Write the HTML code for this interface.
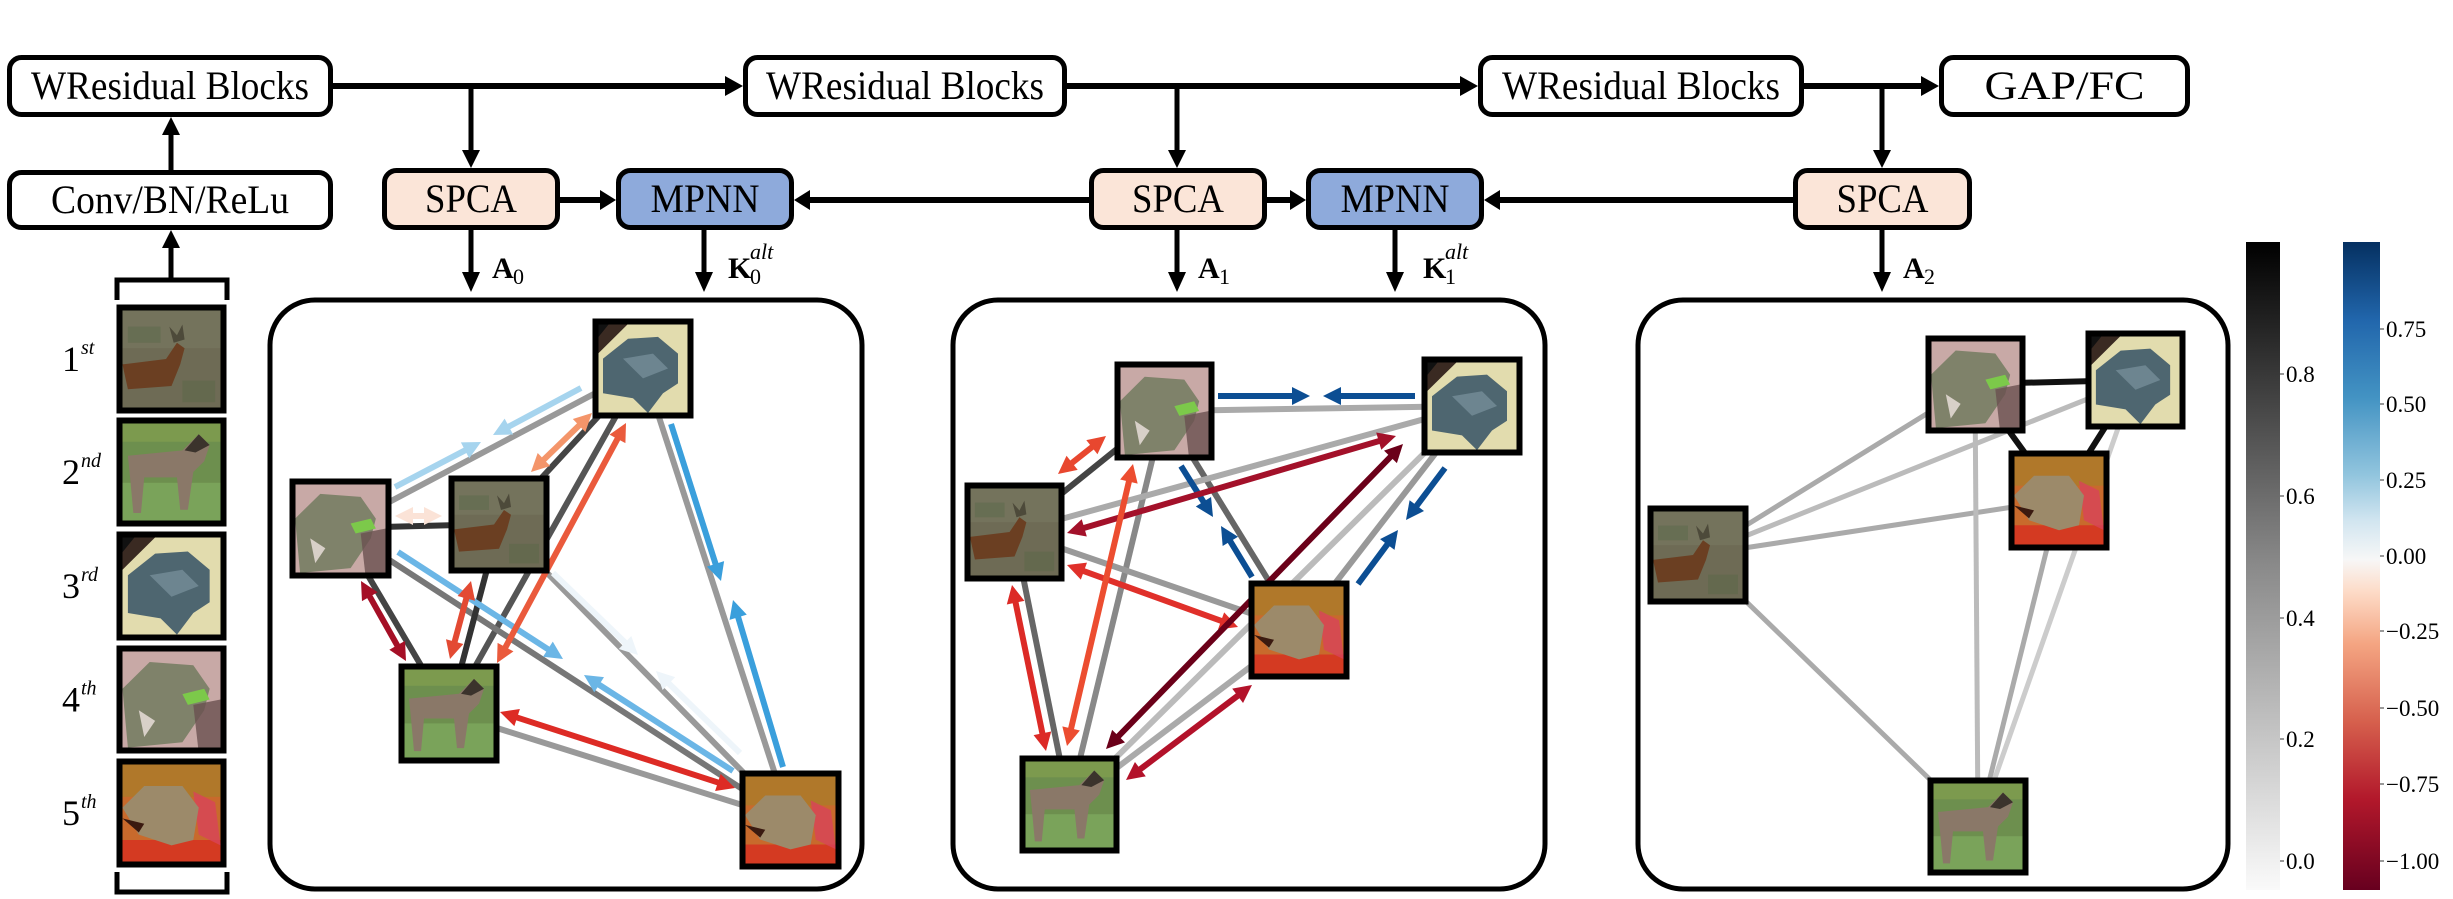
<!DOCTYPE html>
<html><head><meta charset="utf-8">
<style>
html,body{margin:0;padding:0;background:#fff;}
svg{display:block;}
svg text{font-family:"Liberation Serif","Times New Roman",serif;}
</style></head>
<body>
<svg id="s" width="2453" height="899" viewBox="0 0 2453 899" xmlns="http://www.w3.org/2000/svg" font-family="Liberation Serif, serif">
<defs>
<linearGradient id="gray" x1="0" y1="1" x2="0" y2="0">
<stop offset="0" stop-color="#fafafa"/><stop offset="0.5" stop-color="#8a8a8a"/><stop offset="1" stop-color="#000"/>
</linearGradient>
<linearGradient id="rdbu" x1="0" y1="1" x2="0" y2="0">
<stop offset="0" stop-color="#67001f"/>
<stop offset="0.14" stop-color="#b2182b"/>
<stop offset="0.26" stop-color="#d6604d"/>
<stop offset="0.38" stop-color="#f4a582"/>
<stop offset="0.46" stop-color="#fddbc7"/>
<stop offset="0.51" stop-color="#f7f7f7"/>
<stop offset="0.57" stop-color="#d1e5f0"/>
<stop offset="0.64" stop-color="#92c5de"/>
<stop offset="0.76" stop-color="#4393c3"/>
<stop offset="0.88" stop-color="#2166ac"/>
<stop offset="1" stop-color="#053061"/>
</linearGradient>
<symbol id="deer" viewBox="0 0 100 100" preserveAspectRatio="none">
<rect width="100" height="100" fill="#6e6b55"/>
<rect y="0" width="100" height="40" fill="#74735c"/>
<rect x="10" y="20" width="30" height="15" fill="#5f6a4c" opacity="0.6"/>
<rect x="60" y="70" width="30" height="20" fill="#5d684a" opacity="0.6"/>
<path d="M5 55 L45 50 L55 35 L62 40 L58 55 L50 75 L10 78 Z" fill="#6b3f22"/>
<path d="M52 35 L48 20 L55 28 L60 18 L62 32 Z" fill="#4d4a3a"/>
</symbol>
<symbol id="horse" viewBox="0 0 100 100" preserveAspectRatio="none">
<rect width="100" height="100" fill="#6d8f4e"/>
<rect y="0" width="100" height="22" fill="#7c9a4e"/>
<rect y="60" width="100" height="40" fill="#7aa35a"/>
<path d="M10 35 L60 30 L75 15 L85 25 L80 40 L70 50 L65 85 L58 85 L55 55 L25 55 L22 88 L15 88 L12 55 Z" fill="#8a7868"/>
<path d="M62 30 L75 15 L85 25 L72 32 Z" fill="#3b332c"/>
</symbol>
<symbol id="turtle" viewBox="0 0 100 100" preserveAspectRatio="none">
<rect width="100" height="100" fill="#e2dcae"/>
<path d="M0 0 L40 0 L0 40 Z" fill="#3a2a22"/>
<path d="M0 0 L20 0 L0 25 Z" fill="#111"/>
<path d="M10 40 L35 20 L65 18 L85 35 L85 65 L70 75 L55 95 L40 80 L10 75 Z" fill="#4e6670"/>
<path d="M30 40 L60 35 L75 50 L50 60 Z" fill="#6d8590"/>
</symbol>
<symbol id="pfrog" viewBox="0 0 100 100" preserveAspectRatio="none">
<rect width="100" height="100" fill="#c8a9a6"/>
<path d="M5 40 L30 15 L70 18 L85 40 L80 60 L60 90 L10 95 Z" fill="#7f826a"/>
<path d="M60 45 L80 40 L85 50 L65 55 Z" fill="#7cc94a"/>
<path d="M70 55 L95 50 L100 100 L75 100 Z" fill="#6a5050" opacity="0.8"/>
<path d="M20 60 L35 70 L25 85 Z" fill="#d8d0c8"/>
</symbol>
<symbol id="ofrog" viewBox="0 0 100 100" preserveAspectRatio="none">
<rect width="100" height="100" fill="#c86a2c"/>
<rect y="0" width="100" height="35" fill="#b0782a"/>
<rect y="75" width="100" height="25" fill="#d43a22"/>
<path d="M70 30 L90 40 L95 80 L75 70 Z" fill="#d8445a" opacity="0.8"/>
<path d="M5 45 L25 25 L60 25 L75 45 L70 75 L50 80 L20 70 Z" fill="#9c8a6a"/>
<path d="M5 55 L25 60 L20 68 Z" fill="#3a1a10"/>
</symbol>
</defs>
<g id="g" font-family="Liberation Serif, serif"></g>
</svg>
<script>
var NS="http://www.w3.org/2000/svg";var G=document.getElementById("g");
var FF="'Liberation Serif', 'Times New Roman', serif";
function el(t,a,txt){var e=document.createElementNS(NS,t);for(var k in a)e.setAttribute(k,a[k]);if(t==="text"){e.setAttribute("font-family",FF);e.style.fontFamily=FF;}if(txt!==undefined)e.textContent=txt;G.appendChild(e);return e;}
function box(x1,y1,x2,y2,fill,label,tl){el("rect",{x:x1+2.5,y:y1+2.5,width:x2-x1-5,height:y2-y1-5,rx:12,fill:fill,stroke:"#000","stroke-width":5});
 el("text",{x:(x1+x2)/2,y:(y1+y2)/2+13,"text-anchor":"middle","font-size":40,fill:"#000",textLength:tl,lengthAdjust:"spacingAndGlyphs"},label);}
function head(x,y,ux,uy,c,L,W){var bx=x-ux*L,by=y-uy*L;el("polygon",{points:x+","+y+" "+(bx-uy*W)+","+(by+ux*W)+" "+(bx+uy*W)+","+(by-ux*W),fill:c});}
function arr(x1,y1,x2,y2,c,dbl,w,L,W){w=w||6;L=L||18;W=W||9;var dx=x2-x1,dy=y2-y1,d=Math.hypot(dx,dy),ux=dx/d,uy=dy/d;
 var sx=x1+(dbl?ux*L*0.8:0),sy=y1+(dbl?uy*L*0.8:0);
 el("line",{x1:sx,y1:sy,x2:x2-ux*L*0.8,y2:y2-uy*L*0.8,stroke:c,"stroke-width":w});
 head(x2,y2,ux,uy,c,L,W);if(dbl)head(x1,y1,-ux,-uy,c,L,W);}
function ln(x1,y1,x2,y2,c,w){el("line",{x1:x1,y1:y1,x2:x2,y2:y2,stroke:c,"stroke-width":w||6});}
function img(id,x1,y1,x2,y2){el("use",{href:"#"+id,x:x1,y:y1,width:x2-x1,height:y2-y1});
 el("rect",{x:x1+2.5,y:y1+2.5,width:x2-x1-5,height:y2-y1-5,fill:"none",stroke:"#000","stroke-width":6});}

ln(333,86,728,86,"#000",6);head(743,86,1,0,"#000",18,10);
ln(1067,86,1463,86,"#000",6);head(1478,86,1,0,"#000",18,10);
ln(1804,86,1924,86,"#000",6);head(1939,86,1,0,"#000",18,10);
[471,1177,1882].forEach(function(x){ln(x,86,x,152,"#000",5);head(x,168,0,1,"#000",18,9);});
ln(560,200,600,200,"#000",6);head(616,200,1,0,"#000",16,10);
ln(1267,200,1292,200,"#000",6);head(1306,200,1,0,"#000",16,10);
ln(1089,200,810,200,"#000",6);head(794,200,-1,0,"#000",16,10);
ln(1795,200,1500,200,"#000",6);head(1484,200,-1,0,"#000",16,10);
[471,704,1177,1395,1882].forEach(function(x){ln(x,230,x,274,"#000",5);head(x,292,0,1,"#000",20,9);});
ln(171,170,171,133,"#000",5);head(171,117,0,-1,"#000",18,9);
ln(171,278,171,246,"#000",5);head(171,230,0,-1,"#000",18,9);
box(7,55,333,117,"#fff","WResidual Blocks",278);
box(743,55,1067,117,"#fff","WResidual Blocks",278);
box(1478,55,1804,117,"#fff","WResidual Blocks",278);
box(1939,55,2190,117,"#fff","GAP/FC",160);
box(7,170,333,230,"#fff","Conv/BN/ReLu",238);
box(382,168,560,230,"#fbe5d8","SPCA",92);
box(616,168,794,230,"#8eaadb","MPNN",109);
box(1089,168,1267,230,"#fbe5d8","SPCA",92);
box(1306,168,1484,230,"#8eaadb","MPNN",109);
box(1793,168,1972,230,"#fbe5d8","SPCA",92);
function A(x,n){el("text",{x:x,y:278,"font-size":30,"font-weight":"bold"},"A");el("text",{x:x+21,y:284,"font-size":22},n);}
A(492,"0");A(1198,"1");A(1903,"2");
function K(x,n){el("text",{x:x,y:278,"font-size":30,"font-weight":"bold"},"K");el("text",{x:x+22,y:284,"font-size":22},n);el("text",{x:x+22,y:259,"font-size":22,"font-style":"italic"},"alt");}
K(728,"0");K(1423,"1");
el("path",{d:"M117 300 V280 H227 V300",fill:"none",stroke:"#000","stroke-width":5});
el("path",{d:"M117 872 V892 H227 V872",fill:"none",stroke:"#000","stroke-width":5});
var col=[["deer",305,413,"1","st"],["horse",418,526,"2","nd"],["turtle",532,640,"3","rd"],["pfrog",646,753,"4","th"],["ofrog",759,867,"5","th"]];
col.forEach(function(c){img(c[0],117,c[1],226,c[2]);var cy=(c[1]+c[2])/2+12;el("text",{x:62,y:cy,"font-size":36},c[3]);el("text",{x:81,y:cy-17,"font-size":20,"font-style":"italic"},c[4]);});
el("rect",{x:270,y:300,width:592,height:589,rx:45,fill:"none",stroke:"#000","stroke-width":5});
el("rect",{x:953,y:300,width:592,height:589,rx:45,fill:"none",stroke:"#000","stroke-width":5});
el("rect",{x:1638,y:300,width:590,height:589,rx:45,fill:"none",stroke:"#000","stroke-width":5});

var T=[643,368],P=[340,528],D=[499,524],H=[449,713],O=[790,820];
function L2(a,b,c,w){ln(a[0],a[1],b[0],b[1],c,w);}
L2(T,P,"#999");L2(T,D,"#444");L2(T,H,"#555");L2(T,O,"#999");L2(P,D,"#333");L2(P,H,"#444");L2(P,O,"#777");L2(D,H,"#333");L2(D,O,"#999");L2(H,O,"#999");
arr(581,388,493,435,"#a6d4ee");arr(395,487,481,442,"#a6d4ee");
arr(671,424,721,581,"#3a9fdc");arr(783,767,733,600,"#3a9fdc");
arr(398,552,563,659,"#6bb6e6");arr(733,771,584,675,"#6bb6e6");
arr(553,573,638,655,"#eef5fa");arr(740,753,656,671,"#eef5fa");
arr(395,516,442,516,"#fbe3d7",true);
arr(592,413,531,472,"#f4956a",true);
arr(626,423,497,663,"#ea5a3c",true);
arr(471,581,450,659,"#e34a33",true);
arr(361,581,406,661,"#a50f26",true);
arr(500,712,735,788,"#dd2b25",true);
img("turtle",593,319,693,418);img("pfrog",290,479,391,578);img("deer",449,476,549,573);img("horse",399,664,499,763);img("ofrog",740,771,841,869);

P=[1164,411];T=[1472,406];D=[1014,532];O=[1299,630];H=[1069,804];
L2(P,T,"#aaa");L2(P,D,"#444");L2(P,H,"#888");L2(P,O,"#666");L2(T,D,"#aaa");L2(T,O,"#999");L2(T,H,"#bbb");L2(D,O,"#999");L2(D,H,"#666");L2(O,H,"#aaa");
arr(1218,396,1310,396,"#0c4e93");arr(1415,396,1323,396,"#0c4e93");
arr(1181,466,1213,517,"#0c4e93");arr(1252,577,1221,526,"#0c4e93");
arr(1445,468,1406,520,"#0c4e93");arr(1358,584,1398,530,"#0c4e93");
arr(1058,474,1106,436,"#e8472f",true);
arr(1067,533,1396,436,"#a3112a",true);
arr(1067,565,1238,627,"#e0302a",true);
arr(1012,585,1046,751,"#dc2a26",true);
arr(1133,464,1067,746,"#ec4d30",true);
arr(1403,444,1106,749,"#6b0019",true);
arr(1252,685,1126,780,"#b3122a",true);
img("pfrog",1115,362,1214,460);img("turtle",1422,357,1522,455);img("deer",965,483,1064,581);img("ofrog",1249,581,1349,679);img("horse",1020,756,1119,853);

P=[1975,384];T=[2135,380];O=[2059,500];D=[1698,555];H=[1978,826];
L2(D,P,"#aaa",5);L2(D,T,"#bbb",5);L2(D,O,"#aaa",5);L2(D,H,"#aaa",5);L2(P,H,"#bbb",5);L2(O,H,"#aaa",5);L2(T,H,"#ccc",5);
L2(P,T,"#111",6);L2(P,O,"#111",6);L2(T,O,"#111",6);
img("pfrog",1926,336,2025,433);img("turtle",2086,331,2185,429);img("ofrog",2009,451,2109,550);img("deer",1648,506,1748,604);img("horse",1928,778,2028,875);

el("rect",{x:2246,y:242,width:34,height:648,fill:"url(#gray)"});
el("rect",{x:2343,y:242,width:37,height:648,fill:"url(#rdbu)"});
[["0.8",374],["0.6",496],["0.4",618],["0.2",739],["0.0",861]].forEach(function(t){ln(2280,t[1],2284,t[1],"#333",1);el("text",{x:2286,y:t[1]+8,"font-size":23},t[0]);});
[["0.75",329],["0.50",404],["0.25",480],["0.00",556],["\u22120.25",631],["\u22120.50",708],["\u22120.75",784],["\u22121.00",861]].forEach(function(t){ln(2380,t[1],2384,t[1],"#333",1);el("text",{x:2386,y:t[1]+8,"font-size":23},t[0]);});
</script>
</body></html>
